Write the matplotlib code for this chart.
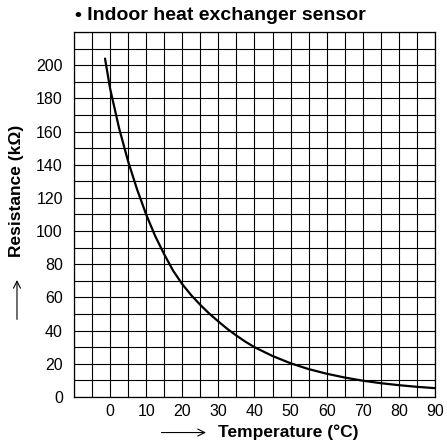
import numpy as np
import matplotlib
matplotlib.use("Agg")
import matplotlib.pyplot as plt

plt.rcParams['font.family'] = ['Liberation Sans', 'DejaVu Sans']

# values
temp_c = [-1.4, 0, 2.5, 5, 7.5, 10, 12.5, 15, 17.5, 20, 22.5, 25, 27.5, 30,
          32.5, 35, 37.5, 40, 45, 50, 55, 60, 65, 70, 75, 80, 85, 90]
resistance_k = [204, 186, 162, 142, 125, 110, 97, 86, 76, 68, 61.3, 55.5, 50.2, 45.5,
                41, 37, 33.3, 30, 24.7, 20.3, 16.8, 14, 11.7, 9.8, 8.3, 7.1, 6.1, 5.3]

x_ticks = [0, 10, 20, 30, 40, 50, 60, 70, 80, 90]
y_ticks = [0, 20, 40, 60, 80, 100, 120, 140, 160, 180, 200]

fig = plt.figure(figsize=(4.47, 4.45), dpi=100, facecolor='white')
ax = fig.add_axes([0.1655, 0.108, 0.8075, 0.820])

ax.set_xlim(-10, 90)
ax.set_ylim(0, 220)
ax.set_xticks(x_ticks)
ax.set_yticks(y_ticks)
ax.set_xticks(np.arange(-10, 91, 5), minor=True)
ax.set_yticks(np.arange(0, 221, 10), minor=True)
ax.grid(True, which='both', color='black', linewidth=0.8)
ax.set_axisbelow(True)
ax.tick_params(which='both', length=0)
ax.tick_params(axis='x', pad=5, labelsize=11.5)
ax.tick_params(axis='y', pad=8, labelsize=11.5)
for s in ax.spines.values():
    s.set_linewidth(0.9)

ax.plot(temp_c, resistance_k, color='black', linewidth=1.6,
        solid_capstyle='round', solid_joinstyle='round')

fig.text(0.494, 0.966, '\u2022 Indoor heat exchanger sensor', ha='center', va='center',
         fontsize=14, fontweight='bold')

# x label with arrow
fig.text(0.488, 0.028, 'Temperature (\u00b0C)', ha='left', va='center',
         fontsize=12.5, fontweight='bold')
fig.patches.append(matplotlib.patches.FancyArrowPatch(
    (0.355, 0.028), (0.467, 0.028), transform=fig.transFigure,
    arrowstyle='->,head_length=0.5,head_width=0.25', color='black', linewidth=0.8,
    mutation_scale=10))

# y label with arrow
fig.text(0.038, 0.571, 'Resistance (k\u03a9)', ha='center', va='center',
         rotation=90, fontsize=12.5, fontweight='bold')
fig.patches.append(matplotlib.patches.FancyArrowPatch(
    (0.038, 0.276), (0.038, 0.377), transform=fig.transFigure,
    arrowstyle='->,head_length=0.5,head_width=0.25', color='black', linewidth=0.8,
    mutation_scale=10))

plt.savefig('out.png', dpi=100)
